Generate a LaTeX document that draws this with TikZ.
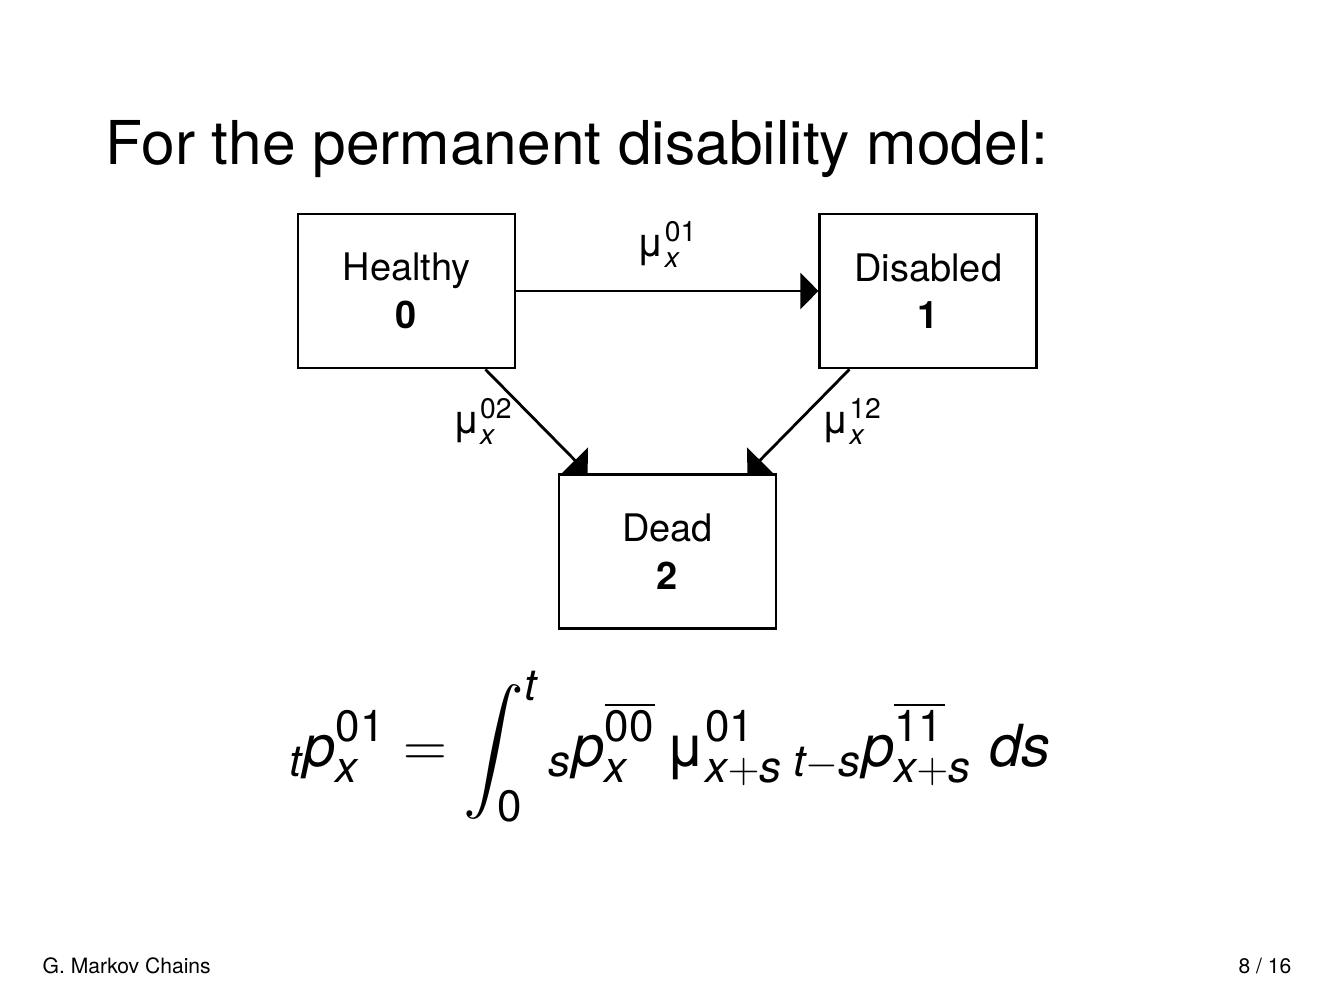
\documentclass[tikz,border=0pt]{standalone}
\usepackage{amsmath}
\usepackage{fontspec}
\setmainfont{TeX Gyre Heros}
\usepackage{tikz}
\usetikzlibrary{arrows.meta,positioning}

\DeclareMathSizes{16.5}{16.5}{12.5}{9}
\newcommand{\mi}[1]{\textit{#1}}
\newcommand{\rate}[1]{$\text{μ}_{\mi{x}}^{\text{#1}}$}

\begin{document}
\begin{tikzpicture}[
  state/.style={rectangle, draw, line width=0.8pt, minimum width=2.17cm, minimum height=1.54cm,
    align=center, font=\fontsize{10.8}{13.5}\selectfont, inner sep=2pt},
  trans/.style={draw, line width=0.8pt, -{Triangle[length=0.18cm, width=0.36cm]}},
  ratelabel/.style={font=\fontsize{11.5}{12}\selectfont},
  plain/.style={inner sep=0pt}
]
\useasboundingbox (0,0) rectangle (13.34,-10);

\node[plain, anchor=base west, font=\fontsize{17.2}{20}\selectfont] (title) at (1.05,-1.65) {For the permanent disability model:};

\node[state] (healthy) at (4.065,-2.91) {Healthy\\\textbf{0}};
\node[state, right=3.02cm of healthy] (disabled) {Disabled\\\textbf{1}};
\node[state] (dead) at (6.675,-5.515) {Dead\\\textbf{2}};

\draw[trans] (healthy.east) -- node[ratelabel, above=0.1cm] {\rate{01}} (disabled.west);
\draw[trans] ([xshift=-0.31cm]healthy.south east) -- node[ratelabel, midway, left=0.1cm] {\rate{02}} ([xshift=0.3cm]dead.north west);
\draw[trans] ([xshift=0.31cm]disabled.south west) -- node[ratelabel, midway, right=0.1cm] {\rate{12}} ([xshift=-0.3cm]dead.north east);

\node[plain, anchor=base, font=\fontsize{16.5}{20}\selectfont] (formula) at (6.7,-7.67) {$\displaystyle
  {}_{\mi{t}}\mi{p}_{\mi{x}}^{\text{01}} = \int_{\text{0}}^{\mi{t}} {}_{\mi{s}}\mi{p}_{\mi{x}}^{\overline{\text{00}}}\,
  \text{μ}_{\mi{x}+\mi{s}}^{\text{01}}\, {}_{\mi{t}-\mi{s}}\mi{p}_{\mi{x}+\mi{s}}^{\overline{\text{11}}}\; \mi{ds}$};

\node[plain, anchor=base west, font=\fontsize{6}{7}\selectfont] (section) at (0.42,-9.73) {G. Markov Chains};
\node[plain, anchor=base east, font=\fontsize{6}{7}\selectfont] (page) at (12.92,-9.73) {8 / 16};
\end{tikzpicture}
\end{document}
